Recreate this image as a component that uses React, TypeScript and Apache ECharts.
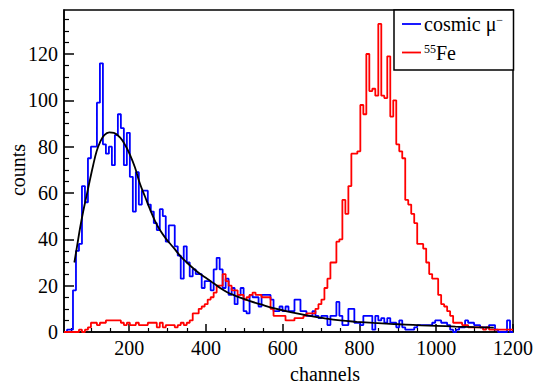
import React, { useEffect, useRef } from "react";
import * as echarts from "echarts";

const X_MIN = 30;
const X_MAX = 1200;
const BIN_WIDTH = 7.8;
const Y_MIN = 0;
const Y_MAX = 139;

const cosmicCounts = [
  0, 1, 1, 18, 35, 38, 63, 56, 75, 80,
  80, 99, 116, 81, 77, 80, 72, 85, 94, 88,
  72, 86, 67, 52, 69, 55, 61, 61, 55, 52,
  47, 44, 53, 50, 39, 46, 46, 37, 33, 23,
  37, 30, 24, 27, 25, 25, 19, 22, 22, 18,
  27, 32, 27, 19, 23, 16, 19, 12, 16, 19,
  9, 8, 16, 15, 15, 11, 16, 16, 16, 14,
  9, 9, 11, 9, 11, 9, 9, 14, 14, 9,
  9, 7, 7, 9, 7, 6, 7, 7, 3, 7,
  7, 13, 7, 3, 3, 10, 10, 4, 4, 3,
  7, 7, 7, 1, 7, 5, 6, 4, 6, 4,
  4, 2, 5, 2, 1, 1, 1, 2, 3, 3,
  3, 3, 3, 4, 5, 5, 4, 4, 3, 1,
  0, 1, 2, 2, 5, 4, 4, 3, 3, 2,
  2, 2, 3, 3, 1, 0, 0, 0, 5, 0,
];

const fe55Counts = [
  0, 0, 0, 0, 0, 1, 0, 1, 2, 4,
  4, 3, 4, 4, 5, 5, 5, 5, 5, 4,
  3, 4, 3, 3, 4, 3, 3, 3, 4, 4,
  4, 2, 4, 2, 3, 3, 3, 2, 3, 4,
  3, 4, 5, 8, 8, 10, 11, 12, 14, 15,
  17, 20, 20, 25, 22, 20, 18, 18, 16, 16,
  14, 15, 16, 17, 16, 16, 15, 15, 15, 10,
  7, 7, 7, 7, 5, 5, 5, 6, 6, 6,
  7, 8, 8, 8, 10, 12, 14, 19, 23, 30,
  30, 39, 40, 57, 51, 63, 77, 77, 78, 98,
  94, 120, 104, 105, 102, 133, 102, 101, 119, 93,
  100, 81, 78, 75, 57, 55, 51, 47, 38, 38,
  36, 30, 25, 23, 23, 16, 12, 11, 9, 7,
  4, 4, 4, 3, 3, 2, 2, 2, 2, 2,
  1, 2, 1, 1, 1, 1, 1, 1, 1, 1,
];

const fitChannels = [
  57, 65, 72, 80, 89, 98, 106, 115, 124, 135, 148, 160, 176, 190, 202, 215,
  228, 241, 254, 267, 280, 297, 315, 332, 350, 368, 385, 403, 420, 437, 454,
  471, 489, 515, 541, 576, 620, 663, 706, 750, 793, 837, 880, 920, 960, 1000,
  1050, 1100, 1150,
];
const fitValues = [
  30, 38, 45, 52, 59, 66, 72, 78, 82, 85, 86.2, 86, 84, 80.5, 76.5, 71,
  64, 58.5, 53, 48, 44, 40, 36.5, 33, 30, 27.3, 25, 23, 21, 19, 17.3,
  16, 14.8, 13.3, 12, 10.3, 8.6, 7.2, 6, 5, 4.4, 3.9, 3.5, 3.2, 2.9, 2.65,
  2.35, 2.1, 1.9,
];

const xTickLabels = [200, 400, 600, 800, 1000, 1200];
const xMinorTicks = [
  50, 100, 150, 250, 300, 350, 450, 500, 550, 650, 700, 750, 850, 900, 950,
  1050, 1100, 1150,
];
const yTickLabels = [0, 20, 40, 60, 80, 100, 120];
const yMinorTicks = [
  5, 10, 15, 25, 30, 35, 45, 50, 55, 65, 70, 75, 85, 90, 95, 105, 110, 115,
  125, 130, 135,
];

const FONT = "Liberation Serif";

function histPoints(counts: number[]): number[][] {
  const pts = counts.map((c, i) => [X_MIN + i * BIN_WIDTH, c]);
  pts.push([X_MAX, counts[counts.length - 1]]);
  return pts;
}

export default function App() {
  const ref = useRef<HTMLDivElement>(null);

  useEffect(() => {
    if (!ref.current) return;
    const chart = echarts.init(ref.current, null, { renderer: "svg" });

    const baseX = {
      type: "value" as const,
      min: X_MIN,
      max: X_MAX,
      position: "bottom" as const,
      splitLine: { show: false },
    };
    const baseY = {
      type: "value" as const,
      min: Y_MIN,
      max: Y_MAX,
      position: "left" as const,
      splitLine: { show: false },
    };
    const plain = (v: number) => String(v);

    chart.setOption({
      animation: false,
      backgroundColor: "#ffffff",
      textStyle: { fontFamily: FONT },
      grid: {
        left: 64,
        right: 24,
        top: 10,
        bottom: 53,
        show: true,
        borderColor: "#000",
        borderWidth: 1.5,
        backgroundColor: "transparent",
      },
      xAxis: [
        {
          ...baseX,
          axisLine: { show: true, lineStyle: { color: "#000", width: 1.5 } },
          axisTick: {
            show: true,
            inside: true,
            length: 8,
            customValues: xTickLabels,
            lineStyle: { color: "#000", width: 1.5 },
          },
          axisLabel: {
            customValues: xTickLabels,
            formatter: plain,
            fontFamily: FONT,
            fontSize: 20,
            color: "#000",
            margin: 6,
          },
        },
        {
          ...baseX,
          axisLine: { show: false },
          axisTick: {
            show: true,
            inside: true,
            length: 4,
            customValues: xMinorTicks,
            lineStyle: { color: "#000", width: 1.2 },
          },
          axisLabel: { show: false },
        },
      ],
      yAxis: [
        {
          ...baseY,
          axisLine: { show: true, lineStyle: { color: "#000", width: 1.5 } },
          axisTick: {
            show: true,
            inside: true,
            length: 10,
            customValues: yTickLabels,
            lineStyle: { color: "#000", width: 1.5 },
          },
          axisLabel: {
            customValues: yTickLabels,
            formatter: plain,
            fontFamily: FONT,
            fontSize: 20,
            color: "#000",
            margin: 6,
          },
        },
        {
          ...baseY,
          axisLine: { show: false },
          axisTick: {
            show: true,
            inside: true,
            length: 5,
            customValues: yMinorTicks,
            lineStyle: { color: "#000", width: 1.2 },
          },
          axisLabel: { show: false },
        },
      ],
      series: [
        {
          name: "cosmic",
          type: "line",
          step: "end",
          data: histPoints(cosmicCounts),
          symbol: "none",
          lineStyle: { color: "#0000ff", width: 1.8 },
          xAxisIndex: 0,
          yAxisIndex: 0,
          z: 2,
        },
        {
          name: "fe55",
          type: "line",
          step: "end",
          data: histPoints(fe55Counts),
          symbol: "none",
          lineStyle: { color: "#ff0000", width: 1.8 },
          xAxisIndex: 0,
          yAxisIndex: 0,
          z: 3,
        },
        {
          name: "fit",
          type: "line",
          smooth: 0.4,
          data: fitChannels.map((c, i) => [c, fitValues[i]]),
          symbol: "none",
          lineStyle: { color: "#000000", width: 1.8 },
          xAxisIndex: 0,
          yAxisIndex: 0,
          z: 4,
        },
      ],
      graphic: [
        {
          type: "text",
          x: 18,
          y: 170,
          rotation: Math.PI / 2,
          style: {
            text: "counts",
            fontFamily: FONT,
            fontSize: 20,
            fill: "#000",
            textAlign: "center",
            textVerticalAlign: "middle",
          },
        },
        {
          type: "text",
          x: 325,
          y: 374,
          style: {
            text: "channels",
            fontFamily: FONT,
            fontSize: 20,
            fill: "#000",
            textAlign: "center",
            textVerticalAlign: "middle",
          },
        },
        {
          type: "rect",
          z: 10,
          shape: { x: 394, y: 10, width: 119.5, height: 60 },
          style: { fill: "#ffffff", stroke: "#000", lineWidth: 1.5 },
        },
        {
          type: "line",
          z: 11,
          shape: { x1: 402, y1: 24, x2: 421, y2: 24 },
          style: { stroke: "#0000ff", lineWidth: 1.8 },
        },
        {
          type: "text",
          z: 11,
          x: 424,
          y: 24,
          style: {
            text: "{t|cosmic μ}{s|−}",
            textVerticalAlign: "middle",
            rich: {
              t: { fontFamily: FONT, fontSize: 20, fill: "#000" },
              s: { fontFamily: FONT, fontSize: 12, fill: "#000", verticalAlign: "top" },
            },
          },
        },
        {
          type: "line",
          z: 11,
          shape: { x1: 402, y1: 52.5, x2: 421, y2: 52.5 },
          style: { stroke: "#ff0000", lineWidth: 1.8 },
        },
        {
          type: "text",
          z: 11,
          x: 424,
          y: 53,
          style: {
            text: "{s|55}{t|Fe}",
            textVerticalAlign: "middle",
            rich: {
              t: { fontFamily: FONT, fontSize: 20, fill: "#000" },
              s: { fontFamily: FONT, fontSize: 12, fill: "#000", verticalAlign: "top" },
            },
          },
        },
      ],
    });

    return () => chart.dispose();
  }, []);

  return (
    <div
      ref={ref}
      style={{ position: "absolute", left: 0, top: 0, width: 537, height: 385 }}
    />
  );
}
